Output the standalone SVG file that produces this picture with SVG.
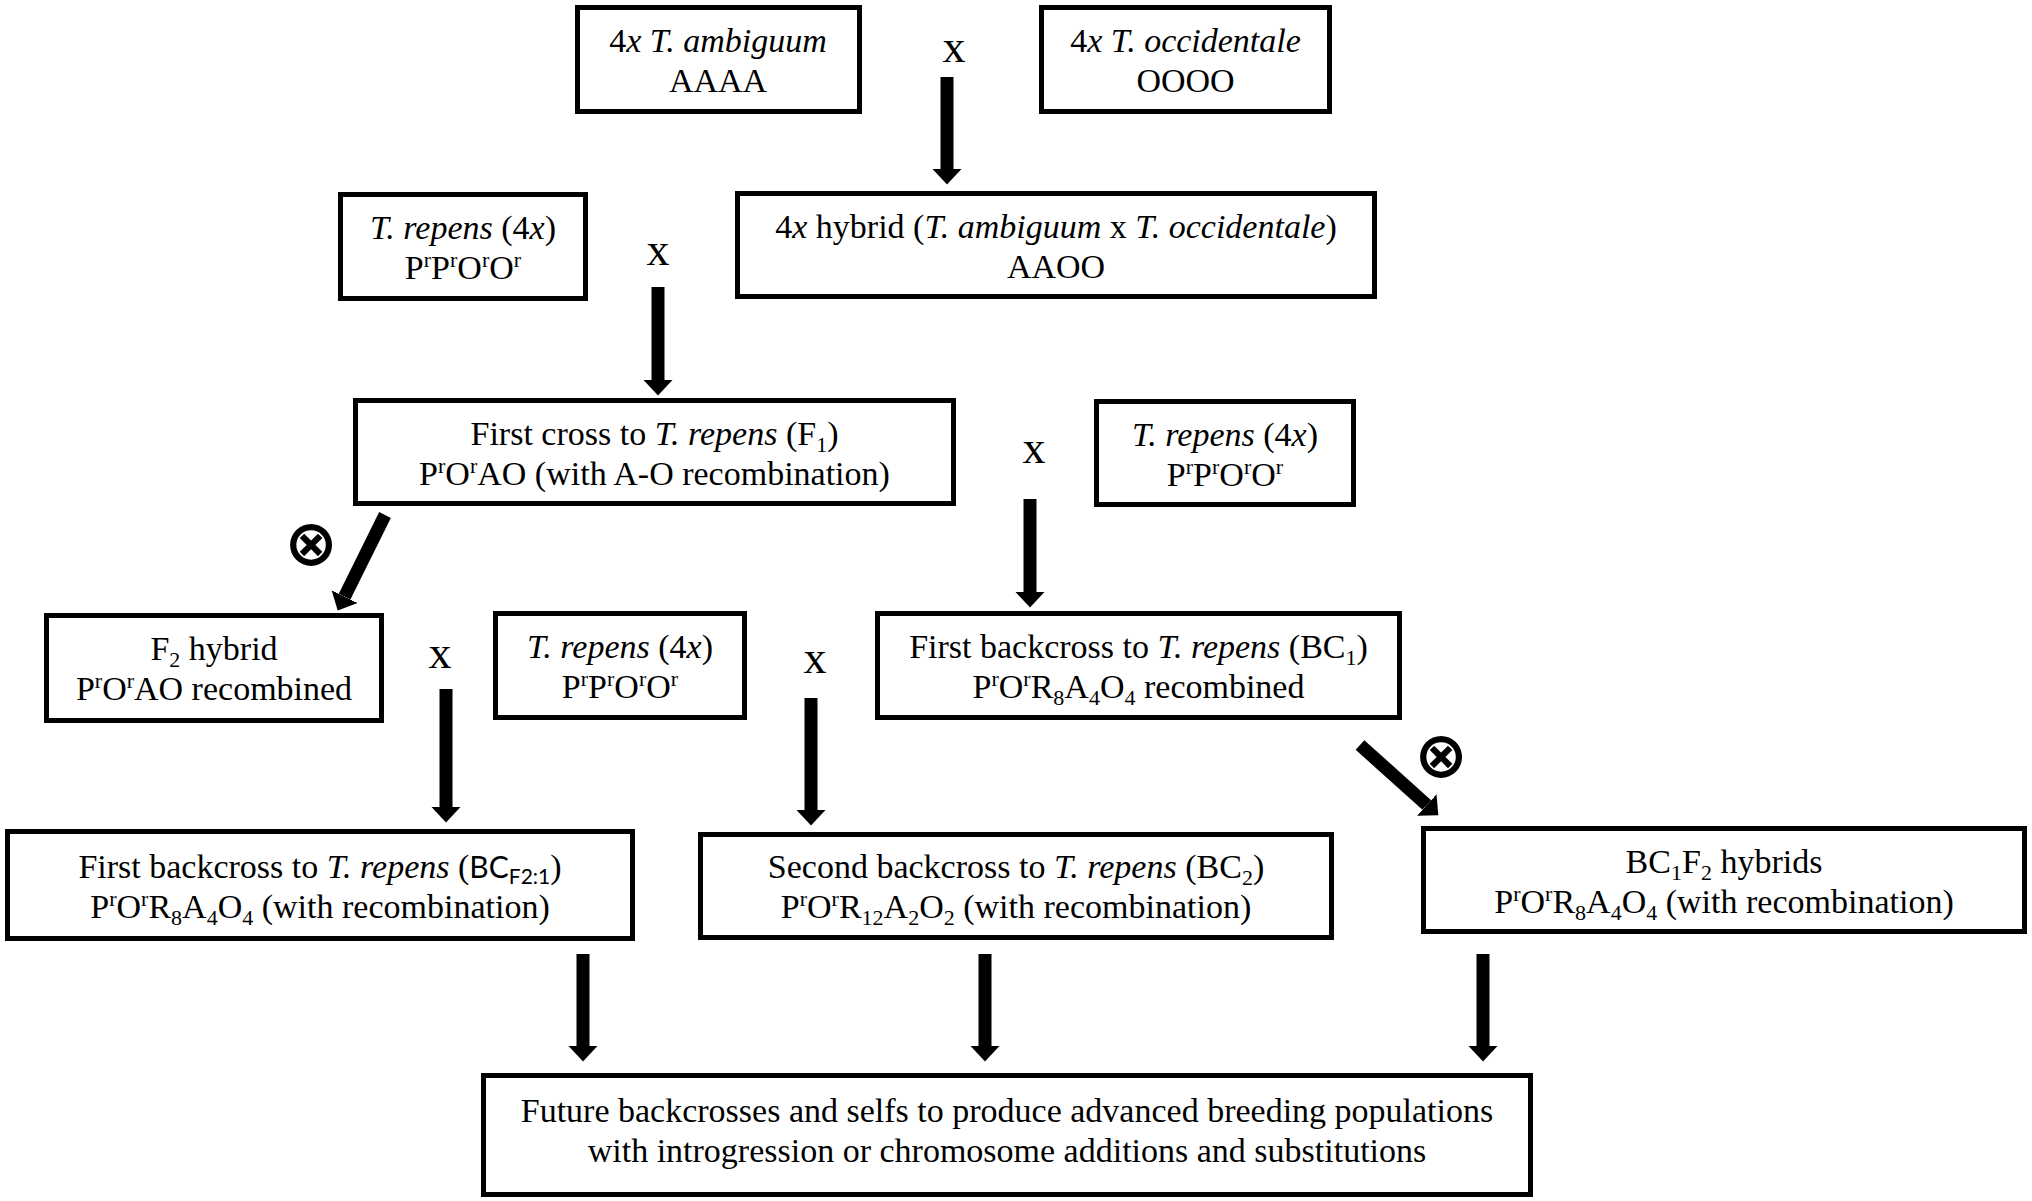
<svg xmlns="http://www.w3.org/2000/svg" width="2032" height="1201" viewBox="0 0 2032 1201">
<style>
.box{fill:#fff;stroke:#000;stroke-width:5}
.t{font-family:"Liberation Serif","Times New Roman",serif;font-size:34px;fill:#000;text-anchor:middle}
.i{font-style:italic}
.sup{font-size:22px;baseline-shift:12px}
.sub{font-size:22px;baseline-shift:-7px}
.sans{font-family:Lato,"Liberation Sans",sans-serif;font-size:30px}
.sans-sub{font-family:Lato,"Liberation Sans",sans-serif;font-size:21px;baseline-shift:-6px}
.cx{font-family:"Liberation Serif",serif;font-size:46px;fill:#000;text-anchor:middle}
.self{font-family:"DejaVu Sans",sans-serif;font-weight:bold;font-size:64px;fill:#000;text-anchor:middle}
.arr{stroke:#000;stroke-width:13;fill:none;marker-end:url(#ah)}
</style>
<defs>
<marker id="ah" markerUnits="userSpaceOnUse" viewBox="0 -15 16 30" markerWidth="16" markerHeight="30" refX="0" refY="0" orient="auto">
<path d="M0,-14.5 L15.5,0 L0,14.5 Z" fill="#000"/>
</marker>
</defs>
<rect width="2032" height="1201" fill="#fff"/>

<g id="connectors">
<path class="arr" d="M947,77 L947,169"/>
<path class="arr" d="M658,287 L658,380"/>
<path class="arr" d="M385,515 L344.6,596.6"/>
<path class="arr" d="M1030,499 L1030,592"/>
<path class="arr" d="M446,689 L446,807"/>
<path class="arr" d="M811,698 L811,810"/>
<path class="arr" d="M1360,745 L1426.8,805"/>
<path class="arr" d="M583,954 L583,1046"/>
<path class="arr" d="M985,954 L985,1046"/>
<path class="arr" d="M1483,954 L1483,1046"/>
</g>

<g id="cross-labels">
<text class="cx" x="954" y="62">x</text>
<text class="cx" x="658" y="265">x</text>
<text class="cx" x="440" y="668">x</text>
<text class="cx" x="815" y="673">x</text>
<text class="cx" x="1034" y="463">x</text>
<text class="self" x="311" y="565">⊗</text>
<text class="self" x="1441" y="777">⊗</text>
</g>

<g id="ambiguum">
<rect class="box" x="577.5" y="7.5" width="282" height="104"/>
<text class="t" x="718" y="52">4<tspan class="i">x T. ambiguum</tspan></text>
<text class="t" x="718" y="92">AAAA</text>
</g>

<g id="occidentale">
<rect class="box" x="1041.5" y="7.5" width="288" height="104"/>
<text class="t" x="1185.5" y="52">4<tspan class="i">x T. occidentale</tspan></text>
<text class="t" x="1185.5" y="92">OOOO</text>
</g>

<g id="repens1">
<rect class="box" x="340.5" y="194.5" width="245" height="104"/>
<text class="t" x="463" y="239"><tspan class="i">T. repens</tspan> (4<tspan class="i">x</tspan>)</text>
<text class="t" x="463" y="279">P<tspan class="sup">r</tspan>P<tspan class="sup">r</tspan>O<tspan class="sup">r</tspan>O<tspan class="sup">r</tspan></text>
</g>

<g id="hybrid">
<rect class="box" x="737.5" y="193.5" width="637" height="103"/>
<text class="t" x="1056" y="238">4<tspan class="i">x</tspan> hybrid (<tspan class="i">T. ambiguum</tspan> x <tspan class="i">T. occidentale</tspan>)</text>
<text class="t" x="1056" y="278">AAOO</text>
</g>

<g id="f1">
<rect class="box" x="355.5" y="400.5" width="598" height="103"/>
<text class="t" x="654.5" y="445">First cross to <tspan class="i">T. repens</tspan> (F<tspan class="sub">1</tspan>)</text>
<text class="t" x="654.5" y="485">P<tspan class="sup">r</tspan>O<tspan class="sup">r</tspan>AO (with A-O recombination)</text>
</g>

<g id="repens2">
<rect class="box" x="1096.5" y="401.5" width="257" height="103"/>
<text class="t" x="1225" y="446"><tspan class="i">T. repens</tspan> (4<tspan class="i">x</tspan>)</text>
<text class="t" x="1225" y="486">P<tspan class="sup">r</tspan>P<tspan class="sup">r</tspan>O<tspan class="sup">r</tspan>O<tspan class="sup">r</tspan></text>
</g>

<g id="f2">
<rect class="box" x="46.5" y="615.5" width="335" height="105"/>
<text class="t" x="214" y="660">F<tspan class="sub">2</tspan> hybrid</text>
<text class="t" x="214" y="700">P<tspan class="sup">r</tspan>O<tspan class="sup">r</tspan>AO recombined</text>
</g>

<g id="repens3">
<rect class="box" x="495.5" y="613.5" width="249" height="104"/>
<text class="t" x="620" y="658"><tspan class="i">T. repens</tspan> (4<tspan class="i">x</tspan>)</text>
<text class="t" x="620" y="698">P<tspan class="sup">r</tspan>P<tspan class="sup">r</tspan>O<tspan class="sup">r</tspan>O<tspan class="sup">r</tspan></text>
</g>

<g id="bc1">
<rect class="box" x="877.5" y="613.5" width="522" height="104"/>
<text class="t" x="1138.5" y="658">First backcross to <tspan class="i">T. repens</tspan> (BC<tspan class="sub">1</tspan>)</text>
<text class="t" x="1138.5" y="698">P<tspan class="sup">r</tspan>O<tspan class="sup">r</tspan>R<tspan class="sub">8</tspan>A<tspan class="sub">4</tspan>O<tspan class="sub">4</tspan> recombined</text>
</g>

<g id="bcf21">
<rect class="box" x="7.5" y="831.5" width="625" height="107"/>
<text class="t" x="320" y="878">First backcross to <tspan class="i">T. repens</tspan> (<tspan class="sans">BC</tspan><tspan class="sans-sub">F2:1</tspan>)</text>
<text class="t" x="320" y="918">P<tspan class="sup">r</tspan>O<tspan class="sup">r</tspan>R<tspan class="sub">8</tspan>A<tspan class="sub">4</tspan>O<tspan class="sub">4</tspan> (with recombination)</text>
</g>

<g id="bc2">
<rect class="box" x="700.5" y="834.5" width="631" height="103"/>
<text class="t" x="1016" y="878">Second backcross to <tspan class="i">T. repens</tspan> (BC<tspan class="sub">2</tspan>)</text>
<text class="t" x="1016" y="918">P<tspan class="sup">r</tspan>O<tspan class="sup">r</tspan>R<tspan class="sub">12</tspan>A<tspan class="sub">2</tspan>O<tspan class="sub">2</tspan> (with recombination)</text>
</g>

<g id="bc1f2">
<rect class="box" x="1423.5" y="828.5" width="601" height="103"/>
<text class="t" x="1724" y="873">BC<tspan class="sub">1</tspan>F<tspan class="sub">2</tspan> hybrids</text>
<text class="t" x="1724" y="913">P<tspan class="sup">r</tspan>O<tspan class="sup">r</tspan>R<tspan class="sub">8</tspan>A<tspan class="sub">4</tspan>O<tspan class="sub">4</tspan> (with recombination)</text>
</g>

<g id="future">
<rect class="box" x="483.5" y="1075.5" width="1047" height="119"/>
<text class="t" x="1007" y="1122">Future backcrosses and selfs to produce advanced breeding populations</text>
<text class="t" x="1007" y="1162">with introgression or chromosome additions and substitutions</text>
</g>
</svg>
